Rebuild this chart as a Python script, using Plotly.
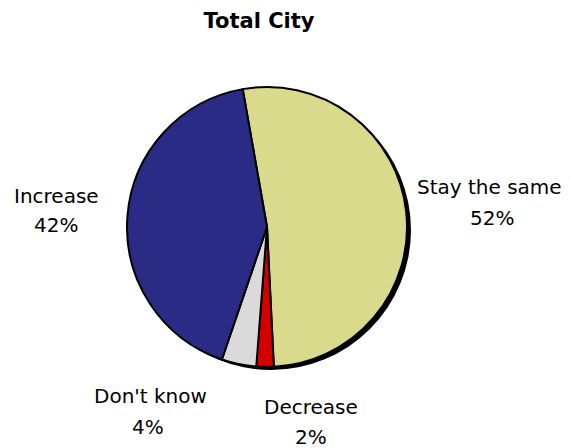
import plotly.graph_objects as go

labels = ["Stay the same", "Decrease", "Don't know", "Increase"]
values = [52, 2, 4, 42]
colors = ["#DADA8C", "#D40000", "#DADADA", "#2A2B85"]

# label anchor positions (page pixels) for name line and percent line
label_pos = {
    "Stay the same": ((489, 187), (492, 218)),
    "Decrease": ((311, 407), (311, 437)),
    "Don't know": ((150, 396), (148, 427)),
    "Increase": ((56, 196), (56, 225)),
}

W, H = 570, 448
OX, OY = 8, 8  # page body margin offset
cx, cy, r = 267, 227, 140


def px(x):
    return (x - OX) / W


def py(y):
    return 1 - (y - OY) / H


def dom(cx, cy, r):
    return dict(x=[px(cx - r), px(cx + r)], y=[py(cy + r), py(cy - r)])


fig = go.Figure()
# drop shadow
fig.add_trace(go.Pie(
    values=[1], labels=["shadow"], marker=dict(colors=["#000000"], line=dict(width=0)),
    textinfo="none", hoverinfo="skip", showlegend=False, sort=False,
    domain=dom(cx + 4, cy + 3, r)))
fig.add_trace(go.Pie(
    labels=labels, values=values, sort=False, direction="clockwise", rotation=-10,
    marker=dict(colors=colors, line=dict(color="#000000", width=2)),
    textinfo="none", showlegend=False, domain=dom(cx, cy, r)))

font = dict(family="DejaVu Sans", size=20, color="#000000")
for lab, val in zip(labels, values):
    (x1, y1), (x2, y2) = label_pos[lab]
    fig.add_annotation(text=lab, x=px(x1), y=py(y1), xref="paper", yref="paper",
                       xanchor="center", yanchor="middle", showarrow=False, font=font)
    fig.add_annotation(text=f"{val}%", x=px(x2), y=py(y2), xref="paper", yref="paper",
                       xanchor="center", yanchor="middle", showarrow=False, font=font)

fig.update_layout(
    width=W, height=H, margin=dict(l=0, r=0, t=0, b=0),
    paper_bgcolor="white", plot_bgcolor="white",
    title=dict(text="<b>Total City</b>", x=px(259), xanchor="center", y=py(21), yanchor="middle",
               font=dict(family="DejaVu Sans", size=21, color="#000000")),
)
fig.write_html("out.html")
